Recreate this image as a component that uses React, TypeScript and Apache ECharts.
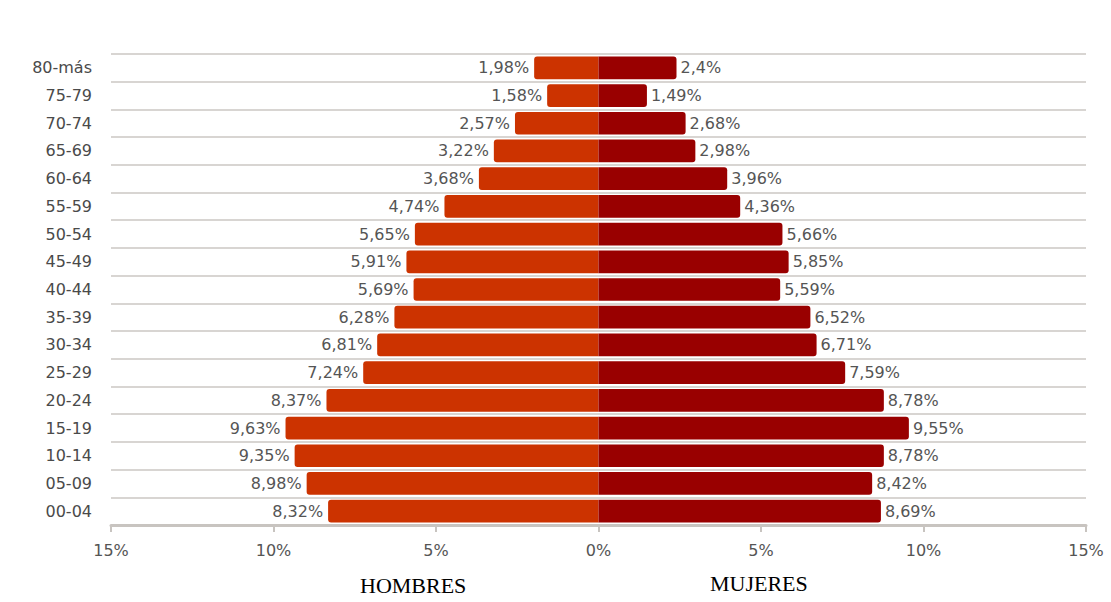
import React, { useEffect, useRef } from "react";
import * as echarts from "echarts";

const categories = ["00-04", "05-09", "10-14", "15-19", "20-24", "25-29", "30-34", "35-39", "40-44", "45-49", "50-54", "55-59", "60-64", "65-69", "70-74", "75-79", "80-más"];
const hombres = [8.32, 8.98, 9.35, 9.63, 8.37, 7.24, 6.81, 6.28, 5.69, 5.91, 5.65, 4.74, 3.68, 3.22, 2.57, 1.58, 1.98];
const mujeres = [8.69, 8.42, 8.78, 9.55, 8.78, 7.59, 6.71, 6.52, 5.59, 5.85, 5.66, 4.36, 3.96, 2.98, 2.68, 1.49, 2.4];
const xTicks = { min: -15, max: 15, interval: 5 };

const fmt = (v: number) => String(Math.abs(v)).replace(".", ",") + "%";

export default function App() {
  const ref = useRef<HTMLDivElement>(null);
  useEffect(() => {
    const chart = echarts.init(ref.current!, null, { renderer: "svg" });
    const font = "'DejaVu Sans', Verdana, sans-serif";
    chart.setOption({
      animation: false,
      backgroundColor: "#ffffff",
      grid: { left: 111, right: 25, top: 54, bottom: 77 },
      xAxis: {
        type: "value",
        min: xTicks.min,
        max: xTicks.max,
        interval: xTicks.interval,
        axisLine: { show: true, lineStyle: { color: "#c8c4c0", width: 3 } },
        axisTick: { show: true, length: 7, lineStyle: { color: "#c8c4c0", width: 2 } },
        splitLine: { show: false },
        axisLabel: {
          formatter: (v: number) => Math.abs(v) + "%",
          color: "#555",
          fontSize: 16,
          fontFamily: font,
          margin: 17,
        },
      },
      yAxis: {
        type: "category",
        data: categories,
        axisLine: { show: false },
        axisTick: { show: false },
        splitLine: { show: true, lineStyle: { color: "#d8d5d2", width: 2 } },
        axisLabel: { color: "#4a4a4a", fontSize: 16, fontFamily: font, margin: 19 },
      },
      series: [
        {
          name: "Hombres",
          type: "bar",
          stack: "total",
          barCategoryGap: "18%",
          data: hombres.map((v) => -v),
          itemStyle: { color: "#cc3300", borderRadius: [3, 0, 0, 3] },
          label: {
            show: true,
            position: "left",
            distance: 5,
            formatter: (p: any) => fmt(p.value),
            color: "#555",
            fontSize: 16,
            fontFamily: font,
            backgroundColor: "#ffffff",
          },
        },
        {
          name: "Mujeres",
          type: "bar",
          stack: "total",
          barCategoryGap: "18%",
          data: mujeres,
          itemStyle: { color: "#990000", borderRadius: [0, 3, 3, 0] },
          label: {
            show: true,
            position: "right",
            distance: 4,
            formatter: (p: any) => fmt(p.value),
            color: "#555",
            fontSize: 16,
            fontFamily: font,
            backgroundColor: "#ffffff",
          },
        },
      ],
      graphic: [
        {
          type: "text",
          left: 413 - 53,
          top: 574,
          style: { text: "HOMBRES", font: "22px 'Liberation Serif', 'Times New Roman', serif", fill: "#000" },
        },
        {
          type: "text",
          left: 759 - 49,
          top: 572,
          style: { text: "MUJERES", font: "22px 'Liberation Serif', 'Times New Roman', serif", fill: "#000" },
        },
      ],
    });
    return () => chart.dispose();
  }, []);
  return (
    <div
      ref={ref}
      style={{ position: "fixed", left: 0, top: 0, width: 1111, height: 602 }}
    />
  );
}
